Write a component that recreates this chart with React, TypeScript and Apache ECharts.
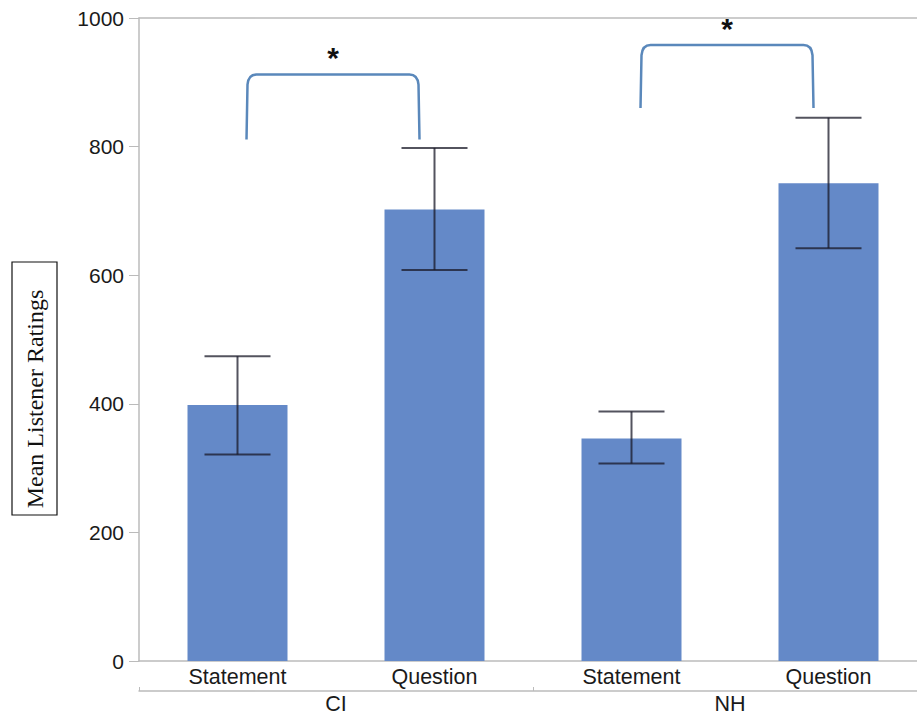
import React, { useEffect, useRef } from "react";
import * as echarts from "echarts";

const categories = ["Statement", "Question", "Statement", "Question"];
const groups = ["CI", "NH"];
const means = [398, 702, 346, 743];
const errLow = [321, 608, 307, 642];
const errHigh = [474, 798, 388, 845];
// bracket: [fromIndex, toIndex, leftEndValue, topValue, rightEndValue]
const brackets = [
  [0, 1, 811, 912, 811],
  [2, 3, 860, 958, 860],
];
const bracketLabel = "*";

export default function App() {
  const ref = useRef<HTMLDivElement>(null);
  useEffect(() => {
    if (!ref.current) return;
    const chart = echarts.init(ref.current, null, { renderer: "svg" });
    const axisGray = "#bbbbbb";
    const font = "Liberation Sans, Arial, sans-serif";
    const option: any = {
      animation: false,
      backgroundColor: "#ffffff",
      grid: { left: 139, top: 18, bottom: 52, right: 0 },
      xAxis: [
        {
          type: "category",
          data: categories,
          position: "bottom",
          axisLine: { show: true, lineStyle: { color: axisGray, width: 1.5 } },
          axisTick: { show: false },
          axisLabel: { color: "#1a1a1a", fontSize: 21.5, fontFamily: font, margin: 5 },
        },
        {
          type: "category",
          data: groups,
          position: "bottom",
          offset: 30,
          axisLine: { show: true, lineStyle: { color: axisGray, width: 1.5 } },
          axisTick: { show: true, inside: true, length: 4, lineStyle: { color: axisGray } },
          axisLabel: { color: "#1a1a1a", fontSize: 21.5, fontFamily: font, margin: 2 },
        },
        {
          type: "category",
          data: categories,
          position: "top",
          axisLine: { show: true, lineStyle: { color: axisGray, width: 1.5 } },
          axisTick: { show: false },
          axisLabel: { show: false },
        },
      ],
      yAxis: {
        type: "value",
        min: 0,
        max: 1000,
        interval: 200,
        axisLine: { show: true, lineStyle: { color: axisGray, width: 1.5 } },
        axisTick: { show: true, length: 10, lineStyle: { color: axisGray } },
        splitLine: { show: false },
        axisLabel: {
          color: "#1a1a1a",
          fontSize: 21,
          fontFamily: font,
          margin: 15,
          formatter: (v: number) => String(v),
        },
      },
      series: [
        {
          type: "bar",
          data: means,
          barWidth: 100,
          itemStyle: { color: "#6489C8" },
        },
        {
          type: "custom",
          data: means.map((_, i) => [i, errLow[i], errHigh[i]]),
          renderItem: (params: any, api: any) => {
            const i = api.value(0);
            const lo = api.coord([i, api.value(1)]);
            const hi = api.coord([i, api.value(2)]);
            const half = 33;
            const style = { stroke: "rgba(25,25,40,0.75)", lineWidth: 2 };
            return {
              type: "group",
              children: [
                { type: "line", shape: { x1: lo[0], y1: lo[1], x2: hi[0], y2: hi[1] }, style },
                { type: "line", shape: { x1: hi[0] - half, y1: hi[1], x2: hi[0] + half, y2: hi[1] }, style },
                { type: "line", shape: { x1: lo[0] - half, y1: lo[1], x2: lo[0] + half, y2: lo[1] }, style },
              ],
            };
          },
          z: 5,
        },
        {
          type: "custom",
          data: brackets,
          renderItem: (params: any, api: any) => {
            const a = api.value(0);
            const b = api.value(1);
            const pl = api.coord([a, api.value(2)]);
            const pt = api.coord([a, api.value(3)]);
            const pr = api.coord([b, api.value(4)]);
            const x1 = pl[0] + 9;
            const x2 = pr[0] - 15;
            const yT = pt[1];
            const r = 10;
            const d = `M${x1},${pl[1]} L${x1 + 1},${yT + r} Q${x1 + 2},${yT} ${x1 + r},${yT} L${x2 - r},${yT} Q${x2 - 2},${yT} ${x2 - 1},${yT + r} L${x2},${pr[1]}`;
            return {
              type: "group",
              children: [
                {
                  type: "path",
                  shape: { pathData: d },
                  style: { stroke: "#5A88BB", lineWidth: 2.5, fill: "none" },
                },
                {
                  type: "text",
                  x: (x1 + x2) / 2,
                  y: yT - 2,
                  style: {
                    text: bracketLabel,
                    fill: "#111",
                    font: "bold 30px Liberation Sans, Arial, sans-serif",
                    align: "center",
                    verticalAlign: "bottom",
                  },
                },
              ],
            };
          },
          z: 6,
        },
      ],
      graphic: [
        {
          type: "rect",
          shape: { x: 12, y: 262, width: 45, height: 253 },
          style: { fill: "none", stroke: "#111", lineWidth: 1.2 },
        },
        {
          type: "text",
          x: 35,
          y: 399,
          rotation: Math.PI / 2,
          style: {
            text: "Mean Listener Ratings",
            fill: "#111",
            font: "24px Liberation Serif, Times New Roman, serif",
            align: "center",
            verticalAlign: "middle",
          },
        },
      ],
    };
    chart.setOption(option);
    return () => chart.dispose();
  }, []);
  return (
    <div
      style={{
        position: "absolute",
        left: 0,
        top: 0,
        width: 917,
        height: 715,
        overflow: "hidden",
      }}
    >
      <div ref={ref} style={{ width: 927, height: 715 }} />
    </div>
  );
}
